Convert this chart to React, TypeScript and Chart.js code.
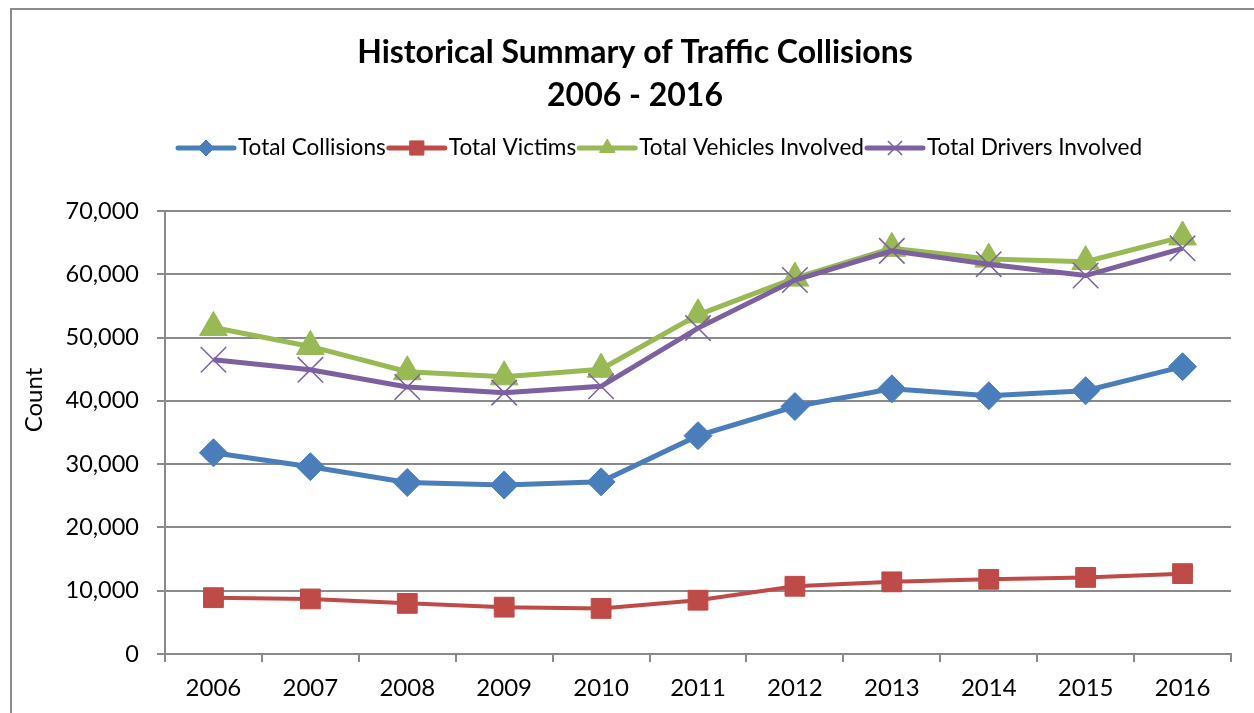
import React, { useEffect, useRef } from 'react';
import { Chart, registerables } from 'chart.js';
import { drawPoint } from 'chart.js/helpers';

Chart.register(...registerables);

const years = ['2006', '2007', '2008', '2009', '2010', '2011', '2012', '2013', '2014', '2015', '2016'];
const totalCollisions = [31800, 29600, 27100, 26700, 27200, 34500, 39100, 41900, 40800, 41600, 45400];
const totalVictims = [8900, 8700, 8000, 7400, 7200, 8500, 10700, 11400, 11800, 12100, 12700];
const totalVehicles = [51600, 48600, 44600, 43800, 45000, 53600, 59400, 64100, 62400, 62000, 65900];
const totalDrivers = [46500, 44900, 42200, 41300, 42300, 51500, 59100, 63700, 61600, 59800, 64100];
const seriesNames = ['Total Collisions', 'Total Victims', 'Total Vehicles Involved', 'Total Drivers Involved'];
const titleLines = ['Historical Summary of Traffic Collisions', '2006 - 2016'];
const yAxisTitle = 'Count';
const yMin = 0;
const yMax = 70000;
const yStep = 10000;

const FONT = 'Lato, "Open Sans", sans-serif';
const GRID = '#8a8a8a';

const legendMarkerRadius = [8, 10, 9, 10];

const framePlugin = {
  id: 'frame',
  beforeDraw(chart: any) {
    const ctx = chart.ctx;
    ctx.save();
    ctx.fillStyle = '#ffffff';
    ctx.fillRect(0, 0, chart.width, chart.height);
    ctx.strokeStyle = '#8c8c8c';
    ctx.lineWidth = 2;
    ctx.strokeRect(11, 9, 2000, 2000);
    ctx.restore();
  },
};

const axisTitlePlugin = {
  id: 'axisTitle',
  afterDraw(chart: any) {
    const ctx = chart.ctx;
    ctx.save();
    ctx.font = `24px ${FONT}`;
    ctx.fillStyle = '#000000';
    ctx.textAlign = 'center';
    ctx.textBaseline = 'middle';
    ctx.translate(34, 400);
    ctx.rotate(-Math.PI / 2);
    ctx.fillText(yAxisTitle, 0, 0);
    ctx.restore();
  },
};

const excelLegend = {
  id: 'excelLegend',
  afterDraw(chart: any) {
    const ctx = chart.ctx;
    ctx.save();
    ctx.font = `22.6px ${FONT}`;
    ctx.textBaseline = 'middle';
    ctx.textAlign = 'left';
    let x = 178;
    const y = 148;
    const lineLen = 56;
    chart.data.datasets.forEach((ds: any, i: number) => {
      ctx.strokeStyle = ds.borderColor;
      ctx.lineWidth = 5;
      ctx.lineCap = 'round';
      ctx.beginPath();
      ctx.moveTo(x, y);
      ctx.lineTo(x + lineLen, y);
      ctx.stroke();
      ctx.fillStyle = ds.backgroundColor;
      ctx.strokeStyle = ds.borderColor;
      ctx.lineWidth = ds.pointStyle === 'crossRot' ? 1.5 : 1;
      ctx.lineCap = 'butt';
      drawPoint(ctx, { pointStyle: ds.pointStyle, radius: legendMarkerRadius[i], rotation: 0, borderWidth: ctx.lineWidth }, x + lineLen / 2, y);
      ctx.fillStyle = '#000000';
      const tx = x + lineLen + 4;
      ctx.fillText(ds.label, tx, y);
      x = tx + ctx.measureText(ds.label).width + 3;
    });
    ctx.restore();
  },
};

export default function App() {
  const ref = useRef<HTMLCanvasElement | null>(null);

  useEffect(() => {
    if (!ref.current) return;
    const chart = new Chart(ref.current, {
      type: 'line',
      data: {
        labels: years,
        datasets: [
          {
            label: seriesNames[0],
            data: totalCollisions,
            borderColor: '#4a7ebb',
            backgroundColor: '#4a7ebb',
            borderWidth: 5,
            pointStyle: 'rectRot',
            pointRadius: 14,
            pointBorderWidth: 1,
            order: 3,
          },
          {
            label: seriesNames[1],
            data: totalVictims,
            borderColor: '#be4b48',
            backgroundColor: '#be4b48',
            borderWidth: 4,
            pointStyle: 'rect',
            pointRadius: 14,
            pointBorderWidth: 1,
            order: 2,
          },
          {
            label: seriesNames[2],
            data: totalVehicles,
            borderColor: '#98b954',
            backgroundColor: '#98b954',
            borderWidth: 5,
            pointStyle: 'triangle',
            pointRadius: 16,
            pointBorderWidth: 1,
            order: 1,
          },
          {
            label: seriesNames[3],
            data: totalDrivers,
            borderColor: '#7d60a0',
            backgroundColor: '#7d60a0',
            borderWidth: 5,
            pointStyle: 'crossRot',
            pointRadius: 18,
            pointBorderWidth: 1.5,
            order: 0,
          },
        ],
      },
      options: {
        responsive: false,
        animation: false,
        devicePixelRatio: 1,
        layout: { padding: { left: 39, right: 23, top: 0, bottom: 0 } },
        elements: { line: { tension: 0 } },
        plugins: {
          legend: { display: false },
          tooltip: { enabled: false },
          title: {
            display: true,
            text: titleLines,
            color: '#000000',
            font: { family: FONT, size: 32, weight: 'bold', lineHeight: '43px' },
            padding: { top: 31.5, bottom: 93.5 },
          },
        },
        scales: {
          x: {
            type: 'category',
            offset: true,
            afterFit: (s: any) => { s.height = 59; },
            grid: { display: true, offset: true, drawOnChartArea: false, drawTicks: true, tickLength: 8, color: GRID, lineWidth: 2 },
            border: { display: true, color: GRID, width: 2 },
            ticks: { color: '#000000', font: { family: FONT, size: 24 }, padding: 11.6, maxRotation: 0, autoSkip: false },
          },
          y: {
            min: yMin,
            max: yMax,
            afterFit: (s: any) => { s.width = 126; },
            grid: { display: true, drawTicks: true, tickLength: 8, color: GRID, lineWidth: 2 },
            border: { display: true, color: GRID, width: 2 },
            ticks: {
              stepSize: yStep,
              color: '#000000',
              font: { family: FONT, size: 23.5 },
              padding: 18,
              callback: (v: any) => Number(v).toLocaleString('en-US'),
            },
          },
        },
      },
      plugins: [framePlugin, axisTitlePlugin, excelLegend],
    });
    return () => chart.destroy();
  }, []);

  return (
    <div style={{ position: 'absolute', left: 0, top: 0, width: 1254, height: 713 }}>
      <canvas ref={ref} width={1254} height={713} style={{ display: 'block', width: 1254, height: 713 }} />
    </div>
  );
}
